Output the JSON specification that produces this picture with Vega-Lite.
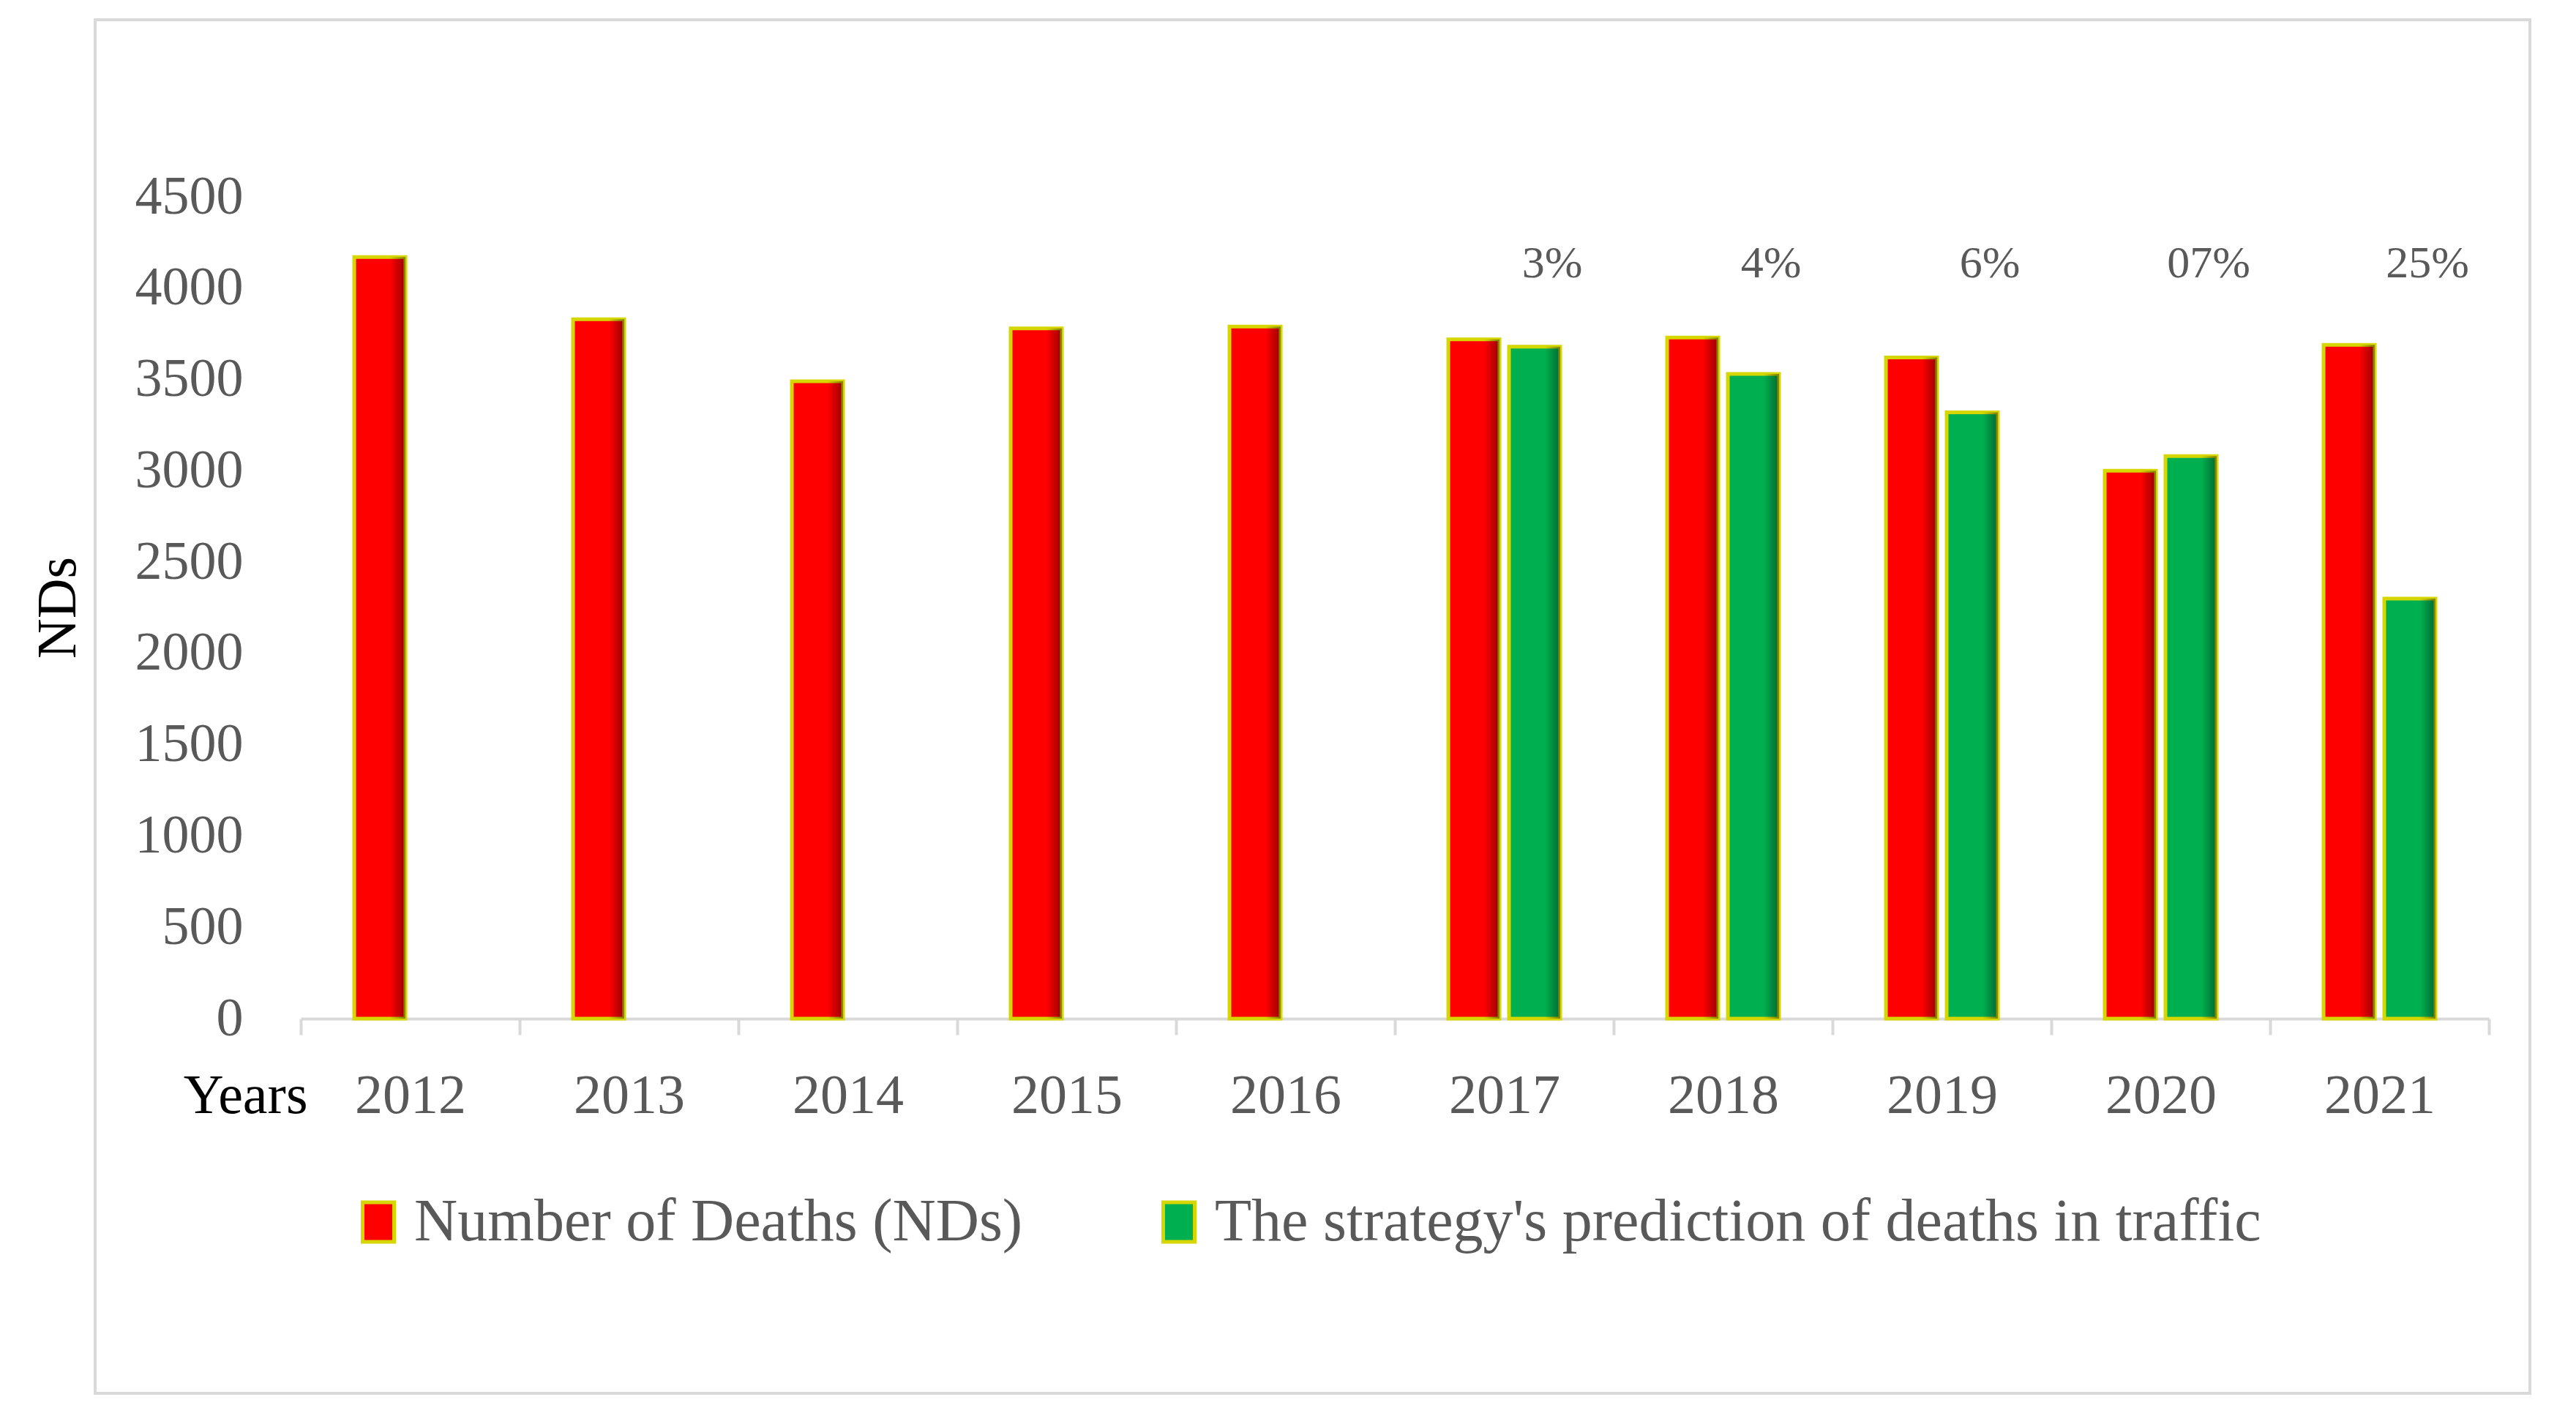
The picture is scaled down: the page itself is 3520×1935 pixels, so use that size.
{
  "$schema": "https://vega.github.io/schema/vega-lite/v6.json",
  "width": 2990,
  "height": 1123,
  "autosize": {"type": "none"},
  "padding": {"left": 411, "top": 269, "right": 119, "bottom": 543},
  "background": "white",
  "config": {"font": "Liberation Serif", "view": {"stroke": null}},
  "layer": [
    {
      "data": {"values": [{}]},
      "mark": {"type": "rect", "fill": "transparent", "stroke": "#d9d9d9", "strokeWidth": 4, "clip": false},
      "encoding": {
        "x": {"datum": 0, "type": "quantitative", "scale": {"domain": [0.08446, 0.98317], "nice": false, "zero": false}, "axis": null},
        "x2": {"datum": 1},
        "y": {"datum": 0, "type": "quantitative", "scale": {"domain": [0.27277, 0.87107], "nice": false, "zero": false}, "axis": null},
        "y2": {"datum": 1}
      }
    },
    {
      "data": {
        "values": [
          {"year": "2012", "series": "Number of Deaths (NDs)", "value": 4170},
          {"year": "2013", "series": "Number of Deaths (NDs)", "value": 3830},
          {"year": "2014", "series": "Number of Deaths (NDs)", "value": 3490},
          {"year": "2015", "series": "Number of Deaths (NDs)", "value": 3780},
          {"year": "2016", "series": "Number of Deaths (NDs)", "value": 3790},
          {"year": "2017", "series": "Number of Deaths (NDs)", "value": 3720},
          {"year": "2018", "series": "Number of Deaths (NDs)", "value": 3730},
          {"year": "2019", "series": "Number of Deaths (NDs)", "value": 3620},
          {"year": "2020", "series": "Number of Deaths (NDs)", "value": 3000},
          {"year": "2021", "series": "Number of Deaths (NDs)", "value": 3690},
          {"year": "2017", "series": "The strategy's prediction of deaths in traffic", "value": 3680, "label": "3%"},
          {"year": "2018", "series": "The strategy's prediction of deaths in traffic", "value": 3530, "label": "4%"},
          {"year": "2019", "series": "The strategy's prediction of deaths in traffic", "value": 3320, "label": "6%"},
          {"year": "2020", "series": "The strategy's prediction of deaths in traffic", "value": 3080, "label": "07%"},
          {"year": "2021", "series": "The strategy's prediction of deaths in traffic", "value": 2300, "label": "25%"}
        ]
      },
      "encoding": {
        "x": {
          "field": "year",
          "type": "nominal",
          "scale": {"paddingInner": 0, "paddingOuter": 0},
          "axis": {
            "title": "Years",
            "titleColor": "black",
            "titleFontSize": 76,
            "titleFontWeight": "normal",
            "titleX": 9,
            "titleY": 128,
            "titleAlign": "right",
            "titleBaseline": "alphabetic",
            "titleAngle": 0,
            "labelAngle": 0,
            "labelColor": "#595959",
            "labelFontSize": 76,
            "labelPadding": 46,
            "tickSize": 22,
            "tickColor": "#d9d9d9",
            "tickWidth": 4,
            "tickBand": "extent",
            "domainColor": "#d9d9d9",
            "domainWidth": 4,
            "grid": false
          }
        },
        "xOffset": {
          "field": "series",
          "scale": {"domain": ["Number of Deaths (NDs)", "The strategy's prediction of deaths in traffic"], "paddingInner": 0.157, "paddingOuter": 0.88}
        },
        "y": {
          "field": "value",
          "type": "quantitative",
          "scale": {"domain": [0, 4500], "nice": false},
          "axis": {
            "title": "NDs",
            "titleColor": "black",
            "titleFontSize": 76,
            "titleFontWeight": "normal",
            "titleX": -332,
            "titleY": 561,
            "titleAngle": -90,
            "titleAlign": "center",
            "titleBaseline": "middle",
            "labelColor": "#595959",
            "labelFontSize": 74,
            "labelPadding": 79,
            "format": "d",
            "ticks": false,
            "domain": false,
            "gridColor": "#d9d9d9",
            "gridWidth": 4,
            "values": [0, 500, 1000, 1500, 2000, 2500, 3000, 3500, 4000, 4500]
          }
        }
      },
      "layer": [
        {
          "mark": {"type": "bar", "stroke": "#d6d600", "strokeWidth": 5},
          "encoding": {
            "color": {
              "field": "series",
              "type": "nominal",
              "scale": {"domain": ["Number of Deaths (NDs)", "The strategy's prediction of deaths in traffic"], "range": ["#ff0000", "#00b050"]},
              "legend": {
                "orient": "none",
                "legendX": 65,
                "legendY": 1360,
                "direction": "horizontal",
                "title": null,
                "labelFont": "Liberation Serif",
                "labelFontSize": 82,
                "labelColor": "#595959",
                "symbolType": "M-0.8,-1H0.8V1H-0.8Z",
                "symbolSize": 2900,
                "symbolStrokeColor": "#d6d600",
                "symbolStrokeWidth": 5,
                "symbolOpacity": 1,
                "columnPadding": 172,
                "labelOffset": 8,
                "labelLimit": 3000
              }
            }
          }
        },
        {
          "mark": {
            "type": "bar",
            "fill": {
              "gradient": "linear",
              "x1": 0, "y1": 0, "x2": 1, "y2": 0,
              "stops": [
                {"offset": 0, "color": "rgba(0,0,0,0)"},
                {"offset": 0.7, "color": "rgba(0,0,0,0)"},
                {"offset": 1, "color": "rgba(0,0,0,0.4)"}
              ]
            }
          }
        },
        {
          "transform": [{"filter": "datum.label != null"}],
          "mark": {"type": "text", "fontSize": 62, "color": "#595959", "dx": 24, "baseline": "middle", "align": "center"},
          "encoding": {
            "y": {"datum": 4135, "type": "quantitative"},
            "text": {"field": "label"}
          }
        }
      ]
    }
  ],
  "resolve": {"scale": {"x": "independent", "y": "independent"}}
}
